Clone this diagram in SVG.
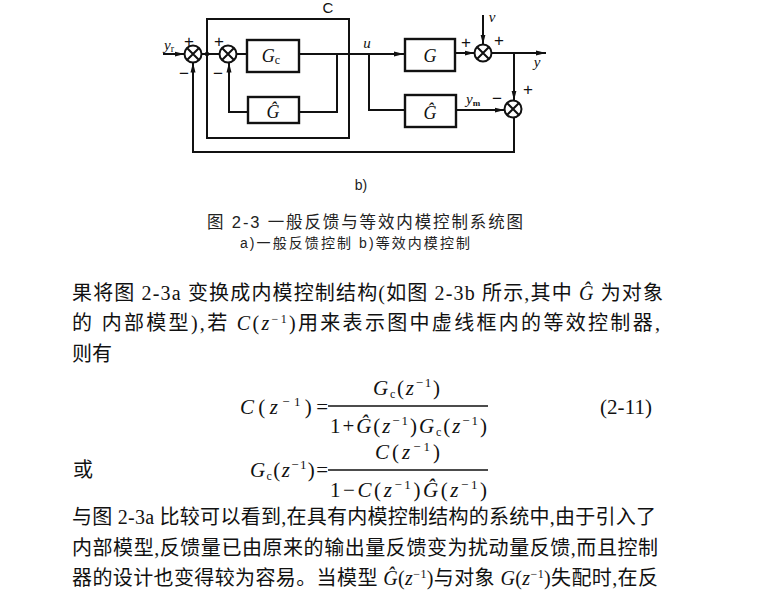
<svg xmlns="http://www.w3.org/2000/svg" width="766" height="594" viewBox="0 0 766 594">
<style>
.ln{fill:none;stroke:#111;stroke-width:2}
.bx{fill:none;stroke:#111;stroke-width:2.4}
.sj{fill:#fff;stroke:#111;stroke-width:2}
.m{font-family:"Liberation Serif",serif;font-style:italic;fill:#111}
.s{font-family:"Liberation Sans",sans-serif;fill:#111}
.body{font-family:"Liberation Serif","Noto Sans CJK SC",serif;font-size:20px;fill:#111}
.cap{font-family:"Liberation Sans","Noto Sans CJK SC",sans-serif;fill:#222}
.eq{font-family:"Liberation Serif",serif;font-size:21px;fill:#111}
.i{font-style:italic}
</style>
<defs>
<marker id="ar" markerUnits="userSpaceOnUse" markerWidth="10" markerHeight="6" refX="10" refY="3" orient="auto">
<path d="M0,0.5 L10,3 L0,5.5 z" fill="#111"/>
</marker>
<g id="sumx">
<circle r="8.5" class="sj"/>
<path d="M-6,-6 L6,6 M-6,6 L6,-6" class="ln" stroke-width="1.6"/>
</g>
</defs>
<rect width="766" height="594" fill="#fff"/>

<g id="connectors">
<path class="ln" d="M163,54 H184.5" marker-end="url(#ar)"/>
<path class="ln" d="M201.5,54 H219.5"/>
<circle cx="207" cy="54" r="2.2" fill="#111"/>
<path class="ln" d="M236.5,54 H247"/>
<path class="ln" d="M299,54 H404" marker-end="url(#ar)"/>
<path class="ln" d="M337,54 V112 H299"/>
<path class="ln" d="M248,112 H229 V62.5" marker-end="url(#ar)"/>
<path class="ln" d="M369,54 V110 H405"/>
<path class="ln" d="M455,53 H474.5" marker-end="url(#ar)"/>
<path class="ln" d="M483,15 V44.5" marker-end="url(#ar)"/>
<path class="ln" d="M491.5,53 H546" marker-end="url(#ar)"/>
<path class="ln" d="M514,53 V100.5" marker-end="url(#ar)"/>
<path class="ln" d="M457,110 H504.5" marker-end="url(#ar)"/>
<path class="ln" d="M514,117.5 V152 H193 V62.5" marker-end="url(#ar)"/>
</g>

<g id="controller-box">
<rect x="207" y="19" width="142" height="119" class="ln" stroke-width="1.8"/>
<text x="328" y="13" class="s" font-size="15" text-anchor="middle">C</text>
</g>

<g id="sum1"><use href="#sumx" x="193" y="54"/>
<text x="164" y="50" class="m" font-size="15">y<tspan font-size="10" dy="2" font-style="normal">r</tspan></text>
<text x="189" y="47" class="s" font-size="17" text-anchor="middle">+</text>
<text x="184" y="79" class="s" font-size="17" text-anchor="middle">−</text>
</g>
<g id="sum2"><use href="#sumx" x="228" y="54"/>
<text x="219" y="47" class="s" font-size="17" text-anchor="middle">+</text>
<text x="218" y="79" class="s" font-size="17" text-anchor="middle">−</text>
</g>
<g id="Gc">
<rect x="247" y="40" width="52" height="32" class="bx"/>
<text x="271" y="62" class="m" font-size="18" text-anchor="middle">G<tspan font-size="12" dy="2" font-style="normal">c</tspan></text>
</g>
<g id="Ghat-inner">
<rect x="248" y="97" width="51" height="26" class="bx"/>
<text x="273" y="118" class="m" font-size="18" text-anchor="middle">Ĝ</text>
</g>
<g id="u-label"><text x="367" y="48" class="m" font-size="15" text-anchor="middle">u</text></g>
<g id="G">
<rect x="405" y="39" width="50" height="32" class="bx"/>
<text x="430" y="62" class="m" font-size="18" text-anchor="middle">G</text>
</g>
<g id="Ghat-model">
<rect x="405" y="95" width="51" height="32" class="bx"/>
<text x="430" y="119" class="m" font-size="18" text-anchor="middle">Ĝ</text>
</g>
<g id="sum3"><use href="#sumx" x="483" y="53"/>
<text x="466" y="48" class="s" font-size="17" text-anchor="middle">+</text>
<text x="499" y="46" class="s" font-size="17" text-anchor="middle">+</text>
<text x="492" y="22" class="m" font-size="15" text-anchor="middle">v</text>
</g>
<g id="y-label"><text x="537" y="67" class="m" font-size="15" text-anchor="middle">y</text></g>
<g id="sum4"><use href="#sumx" x="513" y="109"/>
<text x="528" y="95" class="s" font-size="17" text-anchor="middle">+</text>
<text x="497" y="104" class="s" font-size="17" text-anchor="middle">−</text>
<text x="466" y="104" class="m" font-size="15">y<tspan font-size="9" dy="2" font-style="normal" font-weight="bold">m</tspan></text>
</g>

<g id="caption">
<text x="361" y="190" class="cap" font-size="14" text-anchor="middle">b)</text>
<text x="207" y="228" class="cap" font-size="16.5" textLength="316" lengthAdjust="spacing">图 2-3   一般反馈与等效内模控制系统图</text>
<text x="240" y="248" class="cap" font-size="14" textLength="230" lengthAdjust="spacing">a)一般反馈控制   b)等效内模控制</text>
</g>

<g id="text-top">
<text x="72" y="300" class="body" textLength="591" lengthAdjust="spacing">果将图 2-3a 变换成内模控制结构(如图 2-3b 所示,其中 <tspan class="i">Ĝ</tspan> 为对象</text>
<text x="72" y="330" class="body" textLength="588" lengthAdjust="spacing">的 内部模型),若 <tspan class="i">C</tspan>(<tspan class="i">z</tspan><tspan font-size="12" dy="-7">−1</tspan><tspan dy="7">)用来表示图中虚线框内的等效控制器,</tspan></text>
<text x="72" y="361" class="body">则有</text>
</g>

<g id="equations">
<text x="240" y="414" class="eq" textLength="88" lengthAdjust="spacing"><tspan class="i">C</tspan>(<tspan class="i">z</tspan><tspan font-size="13" dy="-8">−1</tspan><tspan dy="8">)=</tspan></text>
<text x="373" y="395" class="eq" textLength="67" lengthAdjust="spacing"><tspan class="i">G</tspan><tspan font-size="12" dy="3">c</tspan><tspan dy="-3">(</tspan><tspan class="i">z</tspan><tspan font-size="13" dy="-8">−1</tspan><tspan dy="8">)</tspan></text>
<line x1="328" y1="406" x2="488" y2="406" stroke="#111" stroke-width="1.3"/>
<text x="330" y="433" class="eq" textLength="157" lengthAdjust="spacing">1+<tspan class="i">Ĝ</tspan>(<tspan class="i">z</tspan><tspan font-size="13" dy="-8">−1</tspan><tspan dy="8">)</tspan><tspan class="i">G</tspan><tspan font-size="12" dy="3">c</tspan><tspan dy="-3">(</tspan><tspan class="i">z</tspan><tspan font-size="13" dy="-8">−1</tspan><tspan dy="8">)</tspan></text>
<text x="600" y="414" class="eq" font-size="18" textLength="52" lengthAdjust="spacing">(2-11)</text>

<text x="73" y="477" class="body">或</text>
<text x="250" y="477" class="eq" textLength="78" lengthAdjust="spacing"><tspan class="i">G</tspan><tspan font-size="12" dy="3">c</tspan><tspan dy="-3">(</tspan><tspan class="i">z</tspan><tspan font-size="13" dy="-8">−1</tspan><tspan dy="8">)=</tspan></text>
<text x="375" y="459" class="eq" textLength="65" lengthAdjust="spacing"><tspan class="i">C</tspan>(<tspan class="i">z</tspan><tspan font-size="13" dy="-8">−1</tspan><tspan dy="8">)</tspan></text>
<line x1="328" y1="470" x2="488" y2="470" stroke="#111" stroke-width="1.3"/>
<text x="330" y="497" class="eq" textLength="157" lengthAdjust="spacing">1−<tspan class="i">C</tspan>(<tspan class="i">z</tspan><tspan font-size="13" dy="-8">−1</tspan><tspan dy="8">)</tspan><tspan class="i">Ĝ</tspan>(<tspan class="i">z</tspan><tspan font-size="13" dy="-8">−1</tspan><tspan dy="8">)</tspan></text>
</g>

<g id="text-bottom">
<text x="72" y="524" class="body" textLength="584" lengthAdjust="spacing">与图 2-3a 比较可以看到,在具有内模控制结构的系统中,由于引入了</text>
<text x="72" y="555" class="body" textLength="586" lengthAdjust="spacing">内部模型,反馈量已由原来的输出量反馈变为扰动量反馈,而且控制</text>
<text x="72" y="585" class="body" textLength="586" lengthAdjust="spacing">器的设计也变得较为容易。当模型 <tspan class="i">Ĝ</tspan>(<tspan class="i">z</tspan><tspan font-size="12" dy="-7">−1</tspan><tspan dy="7">)与对象 </tspan><tspan class="i">G</tspan>(<tspan class="i">z</tspan><tspan font-size="12" dy="-7">−1</tspan><tspan dy="7">)失配时,在反</tspan></text>
</g>
</svg>
